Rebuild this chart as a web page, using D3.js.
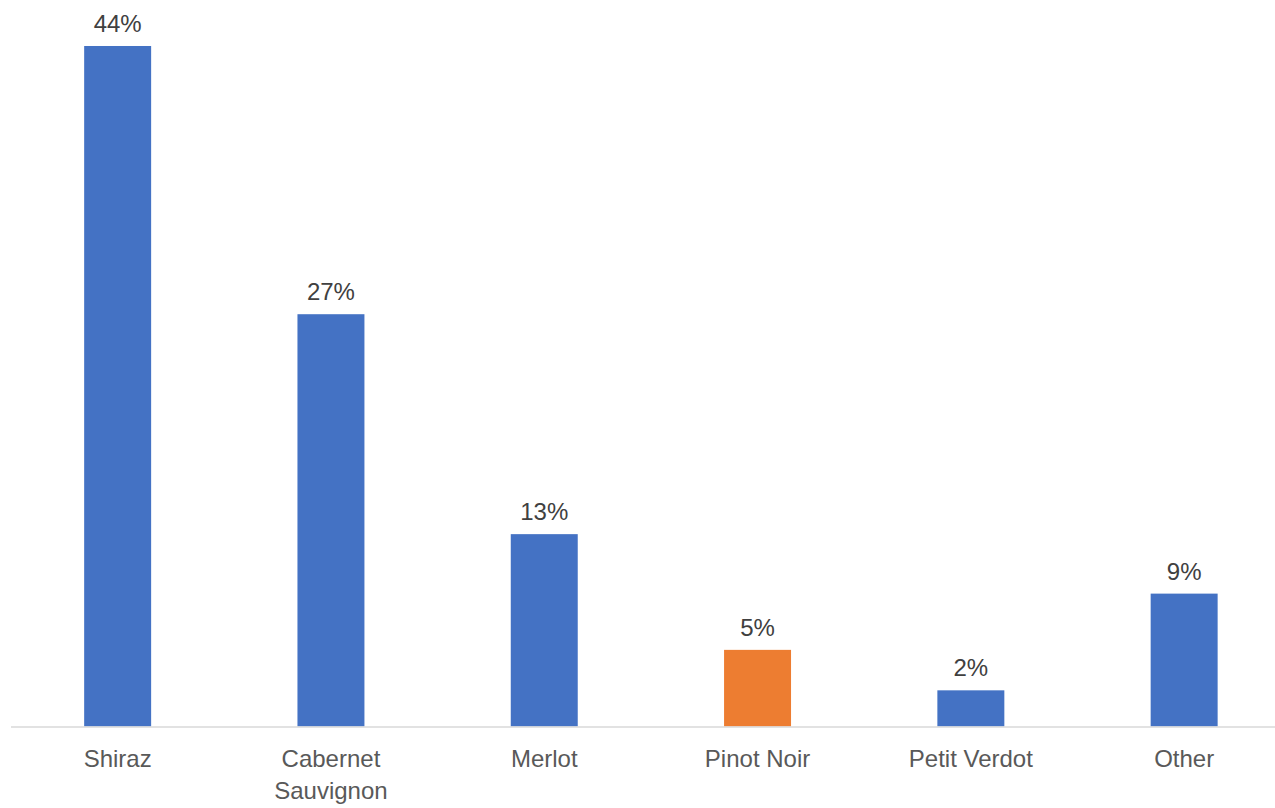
<!DOCTYPE html>
<html>
<head>
<meta charset="utf-8">
<script src="https://cdn.jsdelivr.net/npm/d3@7"></script>
<style>
  body { margin: 0; background: #fff; }
  svg text { font-family: Arial, "Liberation Sans", sans-serif; }
</style>
</head>
<body>
<div id="container"></div>
<script>
// categories (multi-line labels split on "|")
var categories = ["Shiraz", "Cabernet|Sauvignon", "Merlot", "Pinot Noir", "Petit Verdot", "Other"];
// share of plantings
var shares = [0.444, 0.269, 0.1255, 0.05, 0.0236, 0.0867];
// which bar is highlighted
var highlight = ["Pinot Noir"];

var width = 1275, height = 808;

var svg = d3.select("#container")
    .append("svg")
    .attr("width", width)
    .attr("height", height);

// x band scale, padding chosen so the bars are ~67px wide
var x = d3.scaleBand()
    .domain(categories)
    .range([11, 11 + 6 * 213.3])
    .paddingInner(0.686)
    .paddingOuter(0.343);

var y = d3.scaleLinear()
    .domain([0, 0.45])
    .range([726.5, 36.8]);

var data = categories.map(function(c, i) { return { cat: c, value: shares[i] }; });

// bars
svg.selectAll("rect.bar")
    .data(data)
    .enter()
    .append("rect")
    .attr("class", "bar")
    .attr("x", d => x(d.cat))
    .attr("y", d => y(d.value))
    .attr("width", x.bandwidth())
    .attr("height", d => y(0) - y(d.value))
    .attr("fill", d => highlight.includes(d.cat) ? "#ED7D31" : "#4472C4");

// baseline
svg.append("line")
    .attr("x1", 11)
    .attr("x2", width)
    .attr("y1", y(0) + 0.5)
    .attr("y2", y(0) + 0.5)
    .style("stroke", "#D9D9D9")
    .style("stroke-width", 1.5);

// value labels
var fmt = d3.format(".0%");
svg.selectAll("text.value")
    .data(data)
    .enter()
    .append("text")
    .attr("class", "value")
    .attr("x", d => x(d.cat) + x.bandwidth() / 2)
    .attr("y", d => y(d.value) - 14)
    .attr("text-anchor", "middle")
    .style("font-size", "24px")
    .style("fill", "#404040")
    .text(d => fmt(d.value));

// category labels
var labels = svg.selectAll("text.cat")
    .data(data)
    .enter()
    .append("text")
    .attr("class", "cat")
    .attr("text-anchor", "middle")
    .attr("x", d => x(d.cat) + x.bandwidth() / 2)
    .attr("y", 767)
    .style("font-size", "24px")
    .style("fill", "#595959");

labels.selectAll("tspan")
    .data(d => d.cat.split("|").map(t => ({ t: t, cx: x(d.cat) + x.bandwidth() / 2 })))
    .enter()
    .append("tspan")
    .attr("x", d => d.cx)
    .attr("dy", (d, i) => i === 0 ? 0 : 32)
    .text(d => d.t);
</script>
</body>
</html>
